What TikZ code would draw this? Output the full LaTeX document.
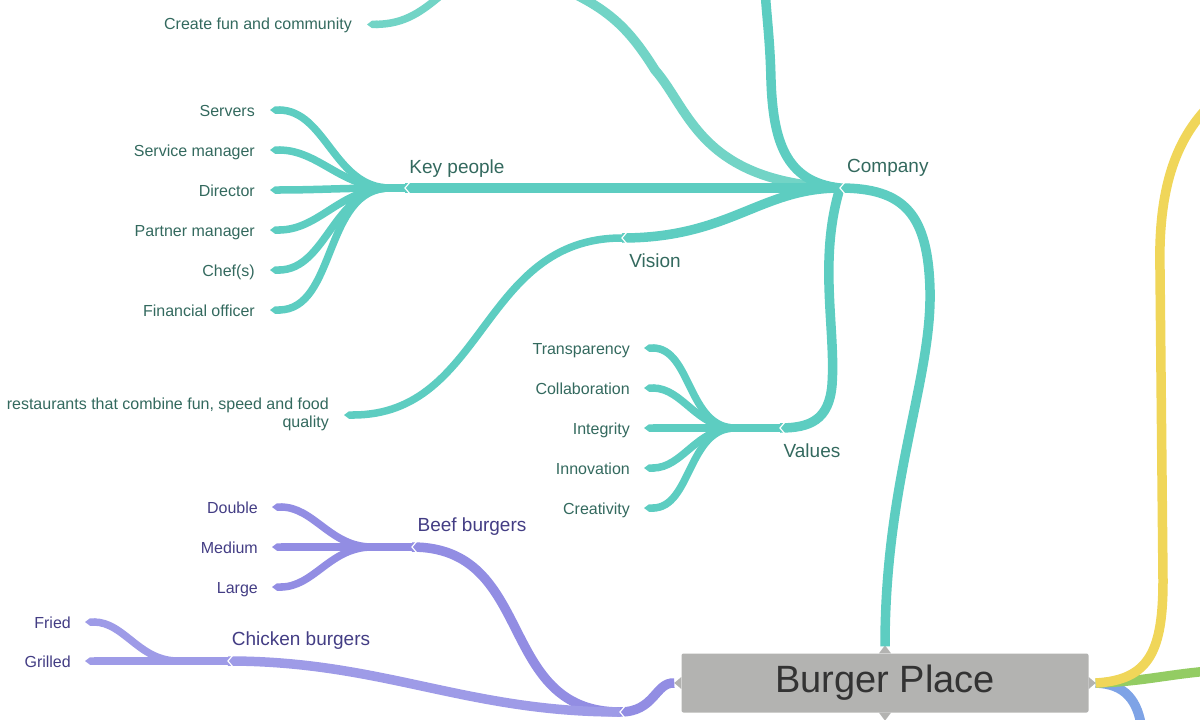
\documentclass[tikz,border=0pt]{standalone}
\usepackage{fontspec}
\setmainfont{Liberation Sans}
\usetikzlibrary{arrows.meta}
\definecolor{tealedge}{HTML}{5DCDC1}
\definecolor{tealpale}{HTML}{72D4C6}
\definecolor{tealtext}{HTML}{33695E}
\definecolor{purpleedge}{HTML}{928DE3}
\definecolor{purplepale}{HTML}{9E9BE7}
\definecolor{purpletext}{HTML}{433D84}
\definecolor{yellowedge}{HTML}{F0D659}
\definecolor{greenedge}{HTML}{93CC63}
\definecolor{blueedge}{HTML}{7EA3E6}
\definecolor{rootfill}{HTML}{B3B3B1}
\definecolor{roottext}{HTML}{333333}

\begin{document}
\begin{tikzpicture}[
  x=1pt, y=-1pt,
  every node/.style={inner sep=0pt},
  root/.style={fill=rootfill, rounded corners=2pt, minimum width=407pt,
    minimum height=59pt, text=roottext, font=\fontsize{38}{44}\selectfont},
  branchtext/.style={font=\fontsize{19}{23}\selectfont, anchor=base},
  leaftext/.style={font=\fontsize{16}{18}\selectfont, anchor=base east},
  bough/.style={line width=9.5pt},
  twig/.style={line width=7.5pt, -{Triangle Cap[length=5pt]}},
  notch/.style={draw=white, line width=1.2pt}
]
  \clip (0,0) rectangle (1200,720);

  % junctions and free ends
  \coordinate (co) at (840,188);
  \coordinate (kp) at (405,188);
  \coordinate (vi) at (622,238);
  \coordinate (vl) at (780,428);
  \coordinate (pj) at (620,712);
  \coordinate (bb) at (412,547);
  \coordinate (ck) at (228,661);
  \coordinate (offa) at (566,-10);
  \coordinate (offb) at (765,-10);
  \coordinate (offc) at (447,-10);
  \coordinate (offd) at (1210,105);
  \coordinate (offe) at (1210,671);
  \coordinate (offf) at (1142,730);

  \node[root] (bp) at (885,683) {Burger Place};
  \fill[rootfill] ([xshift=-6pt]bp.north) -- ++(6,-8) -- ++(6,8) -- cycle;
  \fill[rootfill] ([xshift=-6pt]bp.south) -- ++(6,8) -- ++(6,-8) -- cycle;
  \fill[rootfill] ([yshift=-6pt]bp.west) -- ++(-7,-6) -- ++(7,-6) -- cycle;
  \fill[rootfill] ([yshift=-6pt]bp.east) -- ++(7,-6) -- ++(-7,-6) -- cycle;

  \node[branchtext, text=tealtext, anchor=base west] (company) at (847,172) {Company};
  \node[branchtext, text=tealtext] (keypeople) at (457,173) {Key people};
  \node[branchtext, text=tealtext] (vision) at (655,267) {Vision};
  \node[branchtext, text=tealtext] (values) at (812,457) {Values};
  \node[branchtext, text=purpletext] (beef) at (472,531) {Beef burgers};
  \node[branchtext, text=purpletext] (chicken) at (301,645) {Chicken burgers};

  % teal side
  \draw[bough, tealedge] ([yshift=7pt]bp.north) .. controls (885,480) and (932,380)
    .. (930,290) .. controls (928,215) and (905,188) .. (co);
  \draw[bough, tealpale] (co) .. controls (700,182) and (690,110) .. (655,70)
    .. controls (630,30) and (610,10) .. (offa);
  \draw[bough, tealedge] (co) .. controls (785,182) and (773,140) .. (771,80)
    .. controls (770,40) and (767,20) .. (offb);
  \draw[bough, tealedge] (co) -- (kp);
  \draw[bough, tealedge] (co) .. controls (760,188) and (730,238) .. (vi);
  \draw[bough, tealedge] (co) .. controls (818,260) and (836,330) .. (832,385)
    .. controls (829,420) and (810,428) .. (vl);

  \node[leaftext, text=tealtext] (fun) at (352,30) {Create fun and community};
  \draw[twig, tealpale] (offc) .. controls (422,12) and (405,24) .. ([xshift=15pt, yshift=5.5pt]fun.base east);

  \foreach \y/\name/\txt in {110/srv/Servers, 150/svm/Service manager,
      190/dir/Director, 230/ptm/Partner manager, 270/chf/Chef(s),
      310/fin/Financial officer} {
    \node[leaftext, text=tealtext] (\name) at (255,\y+6) {\txt};
    \draw[twig, tealedge] (kp) -- ++(-15,0) to[out=180, in=0] ([xshift=15pt, yshift=6pt]\name.base east);
  }

  \node[leaftext, text=tealtext, align=right, anchor=east] (mission) at (329,414)
    {restaurants that combine fun, speed and food\\quality};
  \draw[twig, tealedge] (vi) to[out=180, in=0, looseness=1.1] ([xshift=15pt, yshift=-1pt]mission.east);

  \foreach \y/\name/\txt in {348/tra/Transparency, 388/col/Collaboration,
      428/int/Integrity, 468/inn/Innovation, 508/cre/Creativity} {
    \node[leaftext, text=tealtext] (\name) at (630,\y+6) {\txt};
    \draw[twig, tealedge] (vl) -- ++(-45,0) to[out=180, in=0] ([xshift=14pt, yshift=6pt]\name.base east);
  }

  % purple side
  \draw[bough, purpleedge] ([xshift=-7pt]bp.west) .. controls (655,682) and (655,712) .. (pj);
  \draw[bough, purpleedge] (pj) to[out=180, in=0, looseness=1.2] (bb);
  \draw[bough, purplepale] (pj) to[out=180, in=0] (ck);

  \foreach \y/\name/\txt in {507/dbl/Double, 547/med/Medium, 587/lrg/Large} {
    \node[leaftext, text=purpletext] (\name) at (258,\y+6) {\txt};
    \draw[twig, purpleedge] (bb) -- ++(-40,0) to[out=180, in=0] ([xshift=14pt, yshift=6pt]\name.base east);
  }
  \foreach \y/\name/\txt in {622/fri/Fried, 661/gri/Grilled} {
    \node[leaftext, text=purpletext] (\name) at (71,\y+6) {\txt};
    \draw[twig, purplepale] (ck) -- ++(-50,0) to[out=180, in=0] ([xshift=14pt, yshift=6pt]\name.base east);
  }

  % right side
  \draw[bough, blueedge] ([xshift=7pt]bp.east) .. controls (1125,684) and (1138,700) .. (offf);
  \draw[bough, greenedge] ([xshift=7pt]bp.east) .. controls (1140,682) and (1170,674) .. (offe);
  \draw[bough, yellowedge] ([xshift=7pt]bp.east) .. controls (1150,680) and (1163,650)
    .. (1163,580) -- (1160,270) .. controls (1158,190) and (1175,140) .. (offd);

  % notches
  \foreach \p in {co, kp, vi, vl, pj, bb, ck}
    \draw[notch] ([xshift=5pt, yshift=6pt]\p) -- (\p) -- ([xshift=5pt, yshift=-6pt]\p);
\end{tikzpicture}
\end{document}
